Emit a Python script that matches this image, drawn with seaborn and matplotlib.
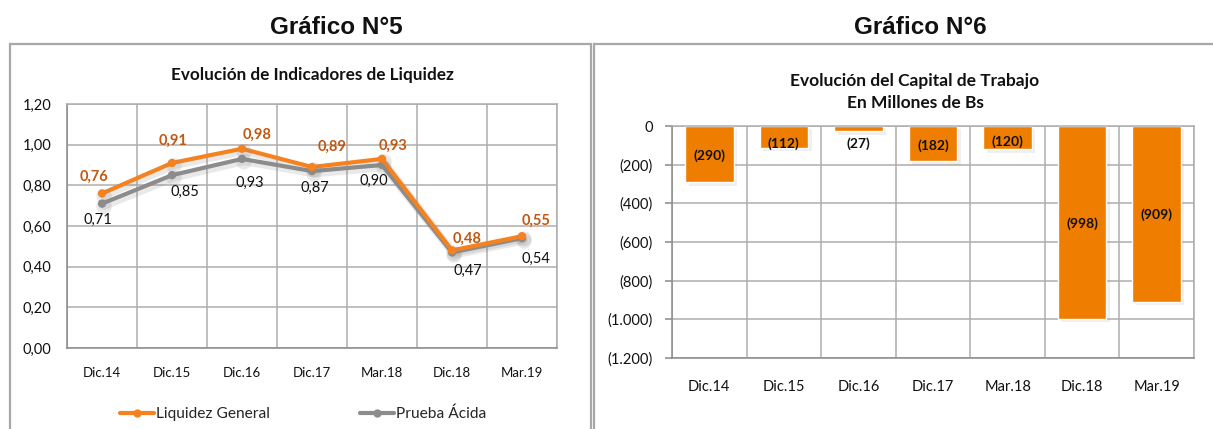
import numpy as np
import pandas as pd
import matplotlib
matplotlib.use("Agg")
import matplotlib.pyplot as plt
import matplotlib.patheffects as pe
from matplotlib.patches import Rectangle
from matplotlib.lines import Line2D
from matplotlib.ticker import FixedLocator, FuncFormatter
import seaborn as sns

# ---- data ----
periodos = ["Dic.14", "Dic.15", "Dic.16", "Dic.17", "Mar.18", "Dic.18", "Mar.19"]
liquidez_general = [0.76, 0.91, 0.98, 0.89, 0.93, 0.48, 0.55]
prueba_acida = [0.71, 0.85, 0.93, 0.87, 0.90, 0.47, 0.54]
capital_trabajo = [-290, -112, -27, -182, -120, -998, -909]

# label anchors (category position, value position)
pos_lg = [(-0.115, 0.843), (1.01, 1.017), (2.22, 1.05), (3.29, 0.99),
          (4.16, 0.995), (5.22, 0.537), (6.2, 0.628)]
pos_pa = [(-0.06, 0.628), (1.19, 0.769), (2.11, 0.81), (3.04, 0.785),
          (3.89, 0.82), (5.22, 0.38), (6.2, 0.438)]
pos_ct = [-154, -92, -92, -101, -80, -503, -460]

NARANJA = "#F5821F"
NARANJA_BARRA = "#EF7D00"
NARANJA_TXT = "#C0580F"
GRIS = "#8C8C8C"
GRID = "#ADADAD"

sns.set_theme(style="white")
plt.rcParams["font.family"] = ["Lato", "DejaVu Sans"]

W, H = 1213, 429
fig = plt.figure(figsize=(W / 100, H / 100), dpi=100)

# panel frames
fig.patches.append(Rectangle((10 / W, -0.1), (591 - 10) / W, 1.1 - 44 / H,
                             transform=fig.transFigure, fill=False,
                             edgecolor="#A8A8A8", lw=1.6))
fig.patches.append(Rectangle((594 / W, -0.1), 1.0, 1.1 - 44 / H,
                             transform=fig.transFigure, fill=False,
                             edgecolor="#A8A8A8", lw=1.6))

fig.text(336 / W, 1 - 28 / H, "Gráfico N°5", family="Liberation Sans",
         weight="bold", size=17.5, ha="center", va="center", color="#111111")
fig.text(920 / W, 1 - 28 / H, "Gráfico N°6", family="Liberation Sans",
         weight="bold", size=17.5, ha="center", va="center", color="#111111")


def estilo(ax):
    ax.xaxis.set_minor_locator(FixedLocator(np.arange(-0.5, len(periodos), 1.0)))
    ax.grid(axis="y", which="major", color=GRID, lw=1.1)
    ax.grid(axis="x", which="minor", color=GRID, lw=1.1)
    ax.grid(axis="x", which="major", visible=False)
    ax.set_axisbelow(True)
    for s in ax.spines.values():
        s.set_color(GRID)
        s.set_linewidth(1.1)
    ax.spines["bottom"].set_color("#8A8A8A")
    ax.spines["left"].set_color("#8A8A8A")
    ax.set_xlabel("")
    ax.set_ylabel("")
    ax.set_xlim(-0.5, len(periodos) - 0.5)


# ---- Gráfico 5: líneas ----
ax1 = fig.add_axes([67 / W, (H - 348) / H, 490 / W, 244 / H])
df = pd.DataFrame({
    "Periodo": periodos * 2,
    "Valor": liquidez_general + prueba_acida,
    "Serie": ["Liquidez General"] * len(periodos) + ["Prueba Ácida"] * len(periodos),
})
sns.lineplot(data=df, x="Periodo", y="Valor", hue="Serie",
             hue_order=["Prueba Ácida", "Liquidez General"],
             palette={"Liquidez General": NARANJA, "Prueba Ácida": GRIS},
             marker="o", markersize=6, markeredgewidth=0, linewidth=3,
             sort=False, legend=False, ax=ax1)
for ln in ax1.lines:
    ln.set_path_effects([pe.SimpleLineShadow(offset=(1.5, -2), shadow_color="#888888",
                                             alpha=0.18, linewidth=5),
                         pe.Normal()])
ax1.set_ylim(0, 1.2)
ax1.yaxis.set_major_locator(FixedLocator(np.arange(0, 1.21, 0.2)))
ax1.yaxis.set_major_formatter(FuncFormatter(lambda v, p: f"{v:.2f}".replace(".", ",")))
estilo(ax1)
ax1.tick_params(axis="y", length=0, pad=11, labelsize=10.5, labelcolor="#111111")
ax1.tick_params(axis="x", which="both", length=0, pad=14, labelsize=9.5, labelcolor="#111111")
ax1.set_title("Evolución de Indicadores de Liquidez", weight="bold", size=12.3,
              color="#111111", pad=17)

for v, (x, y) in zip(liquidez_general, pos_lg):
    ax1.text(x, y, f"{v:.2f}".replace(".", ","), ha="center", va="center",
             weight="bold", size=10.5, color=NARANJA_TXT)
for v, (x, y) in zip(prueba_acida, pos_pa):
    ax1.text(x, y, f"{v:.2f}".replace(".", ","), ha="center", va="center",
             size=10.5, color="#111111")

handles = [Line2D([], [], color=NARANJA, lw=3, marker="o", markersize=6, markeredgewidth=0),
           Line2D([], [], color=GRIS, lw=3, marker="o", markersize=6, markeredgewidth=0)]
fig.legend(handles, ["Liquidez General", "Prueba Ácida"], loc="center",
           bbox_to_anchor=(303 / W, 1 - 414 / H), ncol=2, frameon=False,
           fontsize=11.2, handlelength=2.2, handletextpad=0.1, columnspacing=5.8)

# ---- Gráfico 6: barras ----
ax2 = fig.add_axes([672 / W, (H - 358) / H, 522 / W, 232 / H])
sns.barplot(x=periodos, y=capital_trabajo, color=NARANJA_BARRA, saturation=1,
            width=0.65, ax=ax2)
for p in ax2.patches:
    p.set_path_effects([pe.SimplePatchShadow(offset=(2.5, -2.5), shadow_rgbFace="#999999",
                                             alpha=0.15), pe.Normal()])
ax2.set_ylim(-1200, 0)
ax2.yaxis.set_major_locator(FixedLocator(np.arange(-1200, 1, 200)))


def fmt_miles(v, p=None):
    v = int(round(v))
    if v == 0:
        return "0"
    return f"({abs(v):,})".replace(",", ".")


ax2.yaxis.set_major_formatter(FuncFormatter(fmt_miles))
estilo(ax2)
ax2.tick_params(axis="y", length=5, width=1.1, color="#8A8A8A", left=True, pad=9,
                labelsize=10.5, labelcolor="#111111")
ax2.tick_params(axis="x", which="both", length=0, pad=16, labelsize=10.5, labelcolor="#111111")
ax2.set_title("Evolución del Capital de Trabajo\nEn Millones de Bs", weight="bold",
              size=12.5, color="#111111", pad=13, linespacing=1.45, x=(915 - 672) / 522)

for i, (v, y) in enumerate(zip(capital_trabajo, pos_ct)):
    ax2.text(i, y, fmt_miles(v), ha="center", va="center", weight="bold",
             size=10, color="#111111")

fig.savefig("out.png", dpi=100)
